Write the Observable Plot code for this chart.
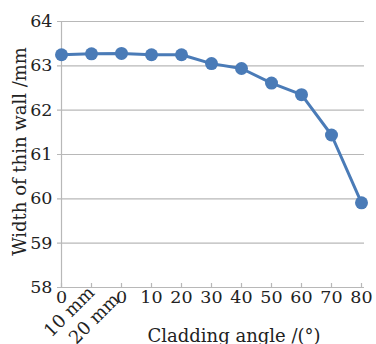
<!DOCTYPE html>
<html>
<head>
<meta charset="utf-8">
<script src="https://cdn.jsdelivr.net/npm/d3@7"></script>
<script src="https://cdn.jsdelivr.net/npm/@observablehq/plot@0.6"></script>
<style>
  html, body { margin: 0; padding: 0; background: #fff; }
  #chart svg { display: block; }
</style>
</head>
<body>
<div id="chart"></div>
<script>
// categories (unique keys for the point scale)
const categories = ["0 mm", "10 mm", "20 mm", "10", "20", "30", "40", "50", "60", "70", "80"];
// horizontal tick labels under each category
const tickLabels = ["0", "", "0", "10", "20", "30", "40", "50", "60", "70", "80"];
// rotated offset labels
const rotatedLabel1 = ["10 mm"];
const rotatedLabel2 = ["20 mm"];
// measured wall width (mm)
const widths = [63.25, 63.27, 63.28, 63.25, 63.25, 63.05, 62.94, 62.61, 62.35, 61.44, 59.91];
const yTicks = [58, 59, 60, 61, 62, 63, 64];
const yTitle = "Width of thin wall /mm";
const xTitle = "Cladding angle /(°)";

const data = categories.map((c, i) => ({cat: c, w: widths[i]}));
const blue = "#4a7bb7";
const grid = "#b8b8b8";
const font = "DejaVu Serif";

const W = 376, H = 344, mL = 57, mR = 12, mT = 21, mB = 57;
const plotH = H - mT - mB;

const chart = Plot.plot({
  width: W,
  height: H,
  marginLeft: mL,
  marginRight: mR,
  marginTop: mT,
  marginBottom: mB,
  style: {fontFamily: font, fontSize: "17px", color: "#222", background: "#fff", overflow: "visible"},
  x: {type: "point", domain: categories, padding: 0, axis: null},
  y: {domain: [58, 64], axis: null},
  marks: [
    Plot.ruleY(yTicks.slice(1), {stroke: grid, strokeWidth: 1.2}),
    Plot.ruleY([58], {stroke: grid, strokeWidth: 1.2}),
    Plot.ruleX([categories[0]], {stroke: grid, strokeWidth: 1.2}),
    Plot.ruleX(categories, {stroke: grid, strokeWidth: 1.2, insetTop: plotH - 4}),
    Plot.axisY({ticks: yTicks, tickSize: 0, tickPadding: 5, fontSize: 17.5, fontFamily: font, label: null,
      tickFormat: d => String(d)}),
    Plot.axisX({tickSize: 0, tickPadding: 3, fontSize: 17.5, fontFamily: font, label: null,
      tickFormat: (d) => tickLabels[categories.indexOf(d)]}),
    Plot.text(rotatedLabel1, {x: () => categories[1], y: () => 58, text: d => d, rotate: -45,
      textAnchor: "end", dx: 0, dy: 2, fontSize: 18, fontFamily: font, fill: "#222"}),
    Plot.text(rotatedLabel2, {x: () => categories[2], y: () => 58, text: d => d, rotate: -45,
      textAnchor: "end", dx: -5, dy: 9, fontSize: 18, fontFamily: font, fill: "#222"}),
    Plot.text([yTitle], {frameAnchor: "left", textAnchor: "middle", rotate: -90, dx: -37, dy: -3, fontSize: 18, fontFamily: font, fill: "#222"}),
    Plot.text([xTitle], {frameAnchor: "bottom", textAnchor: "middle", dx: 23, dy: 54, fontSize: 18, fontFamily: font, fill: "#222"}),
    Plot.line(data, {x: "cat", y: "w", stroke: blue, strokeWidth: 3}),
    Plot.dot(data, {x: "cat", y: "w", r: 6.5, fill: blue, stroke: "none"})
  ]
});
const st = document.createElementNS("http://www.w3.org/2000/svg", "style");
st.textContent = "text { font-family: 'DejaVu Serif', serif !important; }";
chart.insertBefore(st, chart.firstChild);
document.getElementById("chart").appendChild(chart);
</script>
</body>
</html>
